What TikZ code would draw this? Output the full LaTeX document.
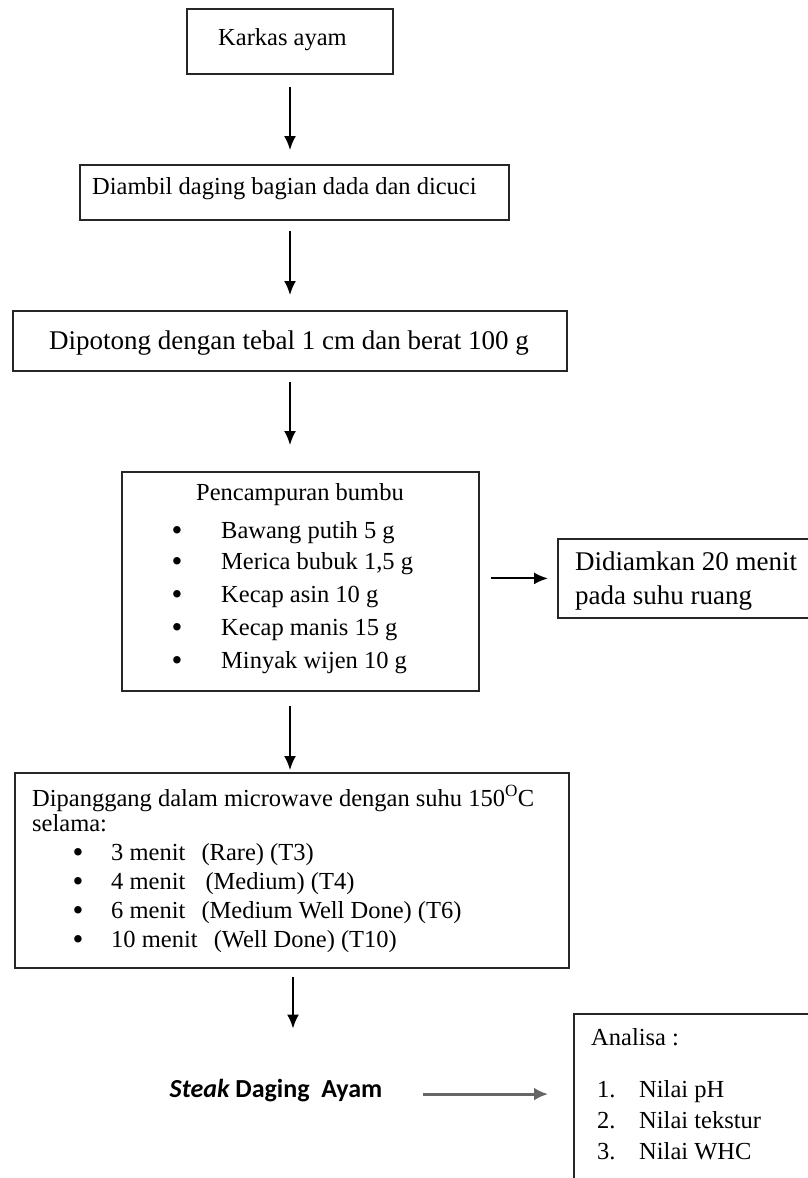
\documentclass[tikz,border=0pt]{standalone}
\usepackage{fontspec}
\setmainfont{Liberation Serif}
\newfontfamily\calib{Carlito}
\usetikzlibrary{arrows.meta}
\begin{document}
\begin{tikzpicture}[x=1pt,y=-1pt,
  box/.style={draw=black!85, line width=1.8pt, inner sep=0pt, anchor=north west},
  txt/.style={inner sep=0pt, font=\fontsize{24.5}{29}\selectfont},
  big/.style={inner sep=0pt, font=\fontsize{27}{33}\selectfont},
  dot/.style={inner sep=0pt, font=\fontsize{31}{31}\selectfont},
  arr/.style={draw=black, line width=2pt, -{Latex[length=14pt,width=12pt]}},
  garr/.style={draw=black!60, line width=3pt, -{Latex[length=14pt,width=13pt]}}]
\path[use as bounding box] (0,0) rectangle (808,1178);
\clip (0,0) rectangle (808,1178);
\fill[white] (0,0) rectangle (808,1178);

% boxes
\node[box, minimum width=206pt, minimum height=65pt] (b1) at (186,8) {};
\node[box, minimum width=429pt, minimum height=55pt] (b2) at (79,164) {};
\node[box, minimum width=554pt, minimum height=60pt] (b3) at (12,310) {};
\node[box, minimum width=357pt, minimum height=219pt] (b4) at (121,471) {};
\node[box, minimum width=300pt, minimum height=79pt] (b5) at (557,538) {};
\node[box, minimum width=554pt, minimum height=195pt] (b6) at (14,772) {};
\node[box, minimum width=300pt, minimum height=260pt] (b7) at (573,1013) {};

% texts
\node[txt, anchor=base west] (t1) at (218,45) {Karkas ayam};
\node[txt, anchor=base west] (t2) at (92,194) {Diambil daging bagian dada dan dicuci};
\node[big, anchor=base] (t3) at (289,349) {Dipotong dengan tebal 1 cm dan berat 100 g};

\node[txt, anchor=base] (t4) at (300,500) {Pencampuran bumbu};
\node[dot, anchor=base] (d1) at (177,540) {\textbullet};
\node[dot, anchor=base] (d2) at (177,571) {\textbullet};
\node[dot, anchor=base] (d3) at (177,604) {\textbullet};
\node[dot, anchor=base] (d4) at (177,637) {\textbullet};
\node[dot, anchor=base] (d5) at (177,670) {\textbullet};
\node[txt, anchor=base west] (i1) at (221,538) {Bawang putih 5 g};
\node[txt, anchor=base west] (i2) at (221,569) {Merica bubuk 1,5 g};
\node[txt, anchor=base west] (i3) at (221,602) {Kecap asin 10 g};
\node[txt, anchor=base west] (i4) at (221,635) {Kecap manis 15 g};
\node[txt, anchor=base west] (i5) at (221,668) {Minyak wijen 10 g};

\node[big, anchor=base west] (t5a) at (575,570) {Didiamkan 20 menit};
\node[big, anchor=base west] (t5b) at (575,604) {pada suhu ruang};

\node[txt, anchor=base west] (t6a) at (32,806) {Dipanggang dalam microwave dengan suhu 150\textsuperscript{O}C};
\node[txt, anchor=base west] (t6b) at (32,831) {selama:};
\node[dot, anchor=base] (e1) at (78,862) {\textbullet};
\node[dot, anchor=base] (e2) at (78,891) {\textbullet};
\node[dot, anchor=base] (e3) at (78,920) {\textbullet};
\node[dot, anchor=base] (e4) at (78,949) {\textbullet};
\node[txt, anchor=base west] (j1) at (111,860) {3 menit\hspace{10pt} (Rare) (T3)};
\node[txt, anchor=base west] (j2) at (111,889) {4 menit\hspace{14pt} (Medium) (T4)};
\node[txt, anchor=base west] (j3) at (111,918) {6 menit\hspace{10pt} (Medium Well Done) (T6)};
\node[txt, anchor=base west] (j4) at (111,947) {10 menit\hspace{10pt} (Well Done) (T10)};

\node[inner sep=0pt, anchor=base, font=\calib\bfseries\fontsize{26}{30}\selectfont] (st) at (276,1097) {{\itshape Steak} Daging\ \ Ayam};

\node[txt, anchor=base west] (t7) at (591,1045) {Analisa :};
\node[txt, anchor=base west] (n1) at (597,1097) {1.};
\node[txt, anchor=base west] (n2) at (597,1128) {2.};
\node[txt, anchor=base west] (n3) at (597,1159) {3.};
\node[txt, anchor=base west] (k1) at (639,1097) {Nilai pH};
\node[txt, anchor=base west] (k2) at (639,1128) {Nilai tekstur};
\node[txt, anchor=base west] (k3) at (639,1159) {Nilai WHC};

% connectors
\coordinate (ax) at (290,0);
\coordinate (ay) at (293,0);
\draw[arr, shorten <=12pt, shorten >=14pt] (b1.south -| ax) -- (b2.north -| ax);
\draw[arr, shorten <=10pt, shorten >=15pt] (b2.south -| ax) -- (b3.north -| ax);
\draw[arr, shorten <=10pt, shorten >=26pt] (b3.south -| ax) -- (b4.north -| ax);
\draw[arr, shorten <=14pt, shorten >=2pt] (b4.south -| ax) -- (b6.north -| ax);
\draw[arr, shorten <=11pt, shorten >=9pt] (b4.east |- b5.west) -- (b5.west);
\draw[arr, shorten <=8pt, shorten >=50pt] (b6.south -| ay) -- (st.north -| ay);
\draw[garr, shorten <=40pt, shorten >=25pt] ([yshift=-4pt]st.east) -- ([yshift=-4pt]st.east -| b7.west);
\end{tikzpicture}
\end{document}
